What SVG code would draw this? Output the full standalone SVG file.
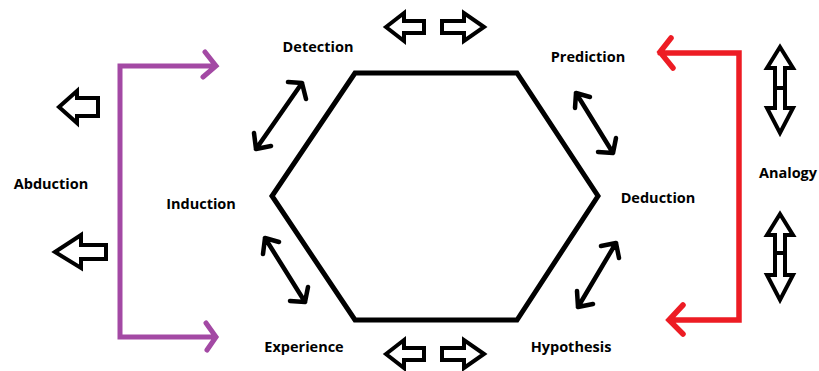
<svg xmlns="http://www.w3.org/2000/svg" width="819" height="371" viewBox="0 0 819 371">
<style>
.lbl{font-family:"Open Sans","Liberation Sans",sans-serif;font-weight:bold;font-size:14.5px;fill:#000;text-anchor:middle}
.hex{fill:none;stroke:#000;stroke-width:5;stroke-linejoin:miter}
.ho{fill:#fff;stroke:#000;stroke-width:4;stroke-linejoin:miter}
.dbl{fill:none;stroke:#000;stroke-width:4.5;stroke-linecap:round;stroke-linejoin:round}
.pur{fill:none;stroke:#a349a4;stroke-width:5;stroke-linecap:round;stroke-linejoin:miter}
.red{fill:none;stroke:#ed1c24;stroke-width:5.5;stroke-linecap:round;stroke-linejoin:miter}
</style>
<rect width="819" height="371" fill="#fff"/>
<g id="hexagon"><polygon class="hex" points="355,73 517,73 598,196 517,320 355,320 272,196"/></g>
<g id="detection"><text class="lbl" x="318" y="52">Detection</text></g>
<g id="prediction"><text class="lbl" x="588" y="62">Prediction</text></g>
<g id="induction"><text class="lbl" x="201" y="209">Induction</text></g>
<g id="deduction"><text class="lbl" x="658" y="203">Deduction</text></g>
<g id="experience"><text class="lbl" x="304" y="352">Experience</text></g>
<g id="hypothesis"><text class="lbl" x="571" y="352">Hypothesis</text></g>
<g id="abduction"><text class="lbl" x="51" y="189">Abduction</text></g>
<g id="analogy"><text class="lbl" x="788" y="178">Analogy</text></g>
<g id="connectors">
<path class="ho" d="M386,27 L404,13 L404,21 L424,21 L424,33 L404,33 L404,41 Z"/>
<path class="ho" d="M484,27 L464,13 L464,21 L442,21 L442,33 L464,33 L464,41 Z"/>
<path class="ho" d="M386,354 L404,340 L404,348 L424,348 L424,360 L404,360 L404,368 Z"/>
<path class="ho" d="M484,354 L464,340 L464,348 L442,348 L442,360 L464,360 L464,368 Z"/>
<path class="ho" d="M59,107 L77,91 L77,98 L98,98 L98,116 L77,116 L77,123 Z"/>
<path class="ho" d="M55,252 L81,235 L81,245 L106,245 L106,259 L81,259 L81,268 Z"/>
<path class="ho" d="M780,47 L793,68 L785,68 L785,108 L793,108 L780,133 L767,108 L775,108 L775,68 L767,68 Z"/>
<line x1="775" y1="88" x2="785" y2="88" stroke="#000" stroke-width="4"/>
<path class="ho" d="M780,214 L793,235 L785,235 L785,275 L793,275 L780,300 L767,275 L775,275 L775,235 L767,235 Z"/>
<line x1="775" y1="253" x2="785" y2="253" stroke="#000" stroke-width="4"/>
<path class="dbl" d="M256,149 L302,83 M288,82 L302,83 L306,99 M254,133 L256,149 L271,146"/>
<path class="dbl" d="M576,93 L613,153 M575,108 L576,93 L590,97 M598,152 L613,153 L616,138"/>
<path class="dbl" d="M265,238 L305,302 M263,254 L265,238 L279,242 M290,301 L305,302 L308,287"/>
<path class="dbl" d="M616,243 L578,307 M601,246 L616,243 L619,258 M577,291 L578,307 L593,304"/>
<path class="pur" d="M215,66 L120,66 L120,337 L215,337 M205,52 L216,66 L203,77 M206,323 L216,337 L207,350"/>
<path class="red" d="M660,53 L739,53 L739,320 L669,320 M671,38 L660,52 L673,68 M683,305 L669,320 L683,334"/>
</g>
</svg>
